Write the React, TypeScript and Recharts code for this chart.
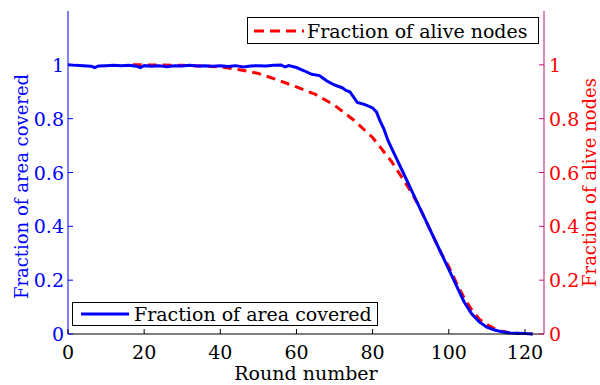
import { Label, Line, LineChart, XAxis, YAxis } from "recharts";

const xTicks = [0, 20, 40, 60, 80, 100, 120];
const yTicks = [0, 0.2, 0.4, 0.6, 0.8, 1];

const coveredRounds = [
  0, 2, 4, 6, 7, 8, 10, 12, 14, 16, 18, 19, 20, 22, 24, 26, 28, 30, 32, 34, 36, 38, 40, 42, 44, 46, 48,
  50, 52, 54, 56, 57, 58, 60, 62, 64, 66, 67, 68, 70, 72, 73, 74, 75, 76, 78, 80, 81, 82, 83, 84, 85, 86,
  88, 90, 92, 94, 96, 98, 100, 102, 104, 106, 108, 110, 112, 114, 116, 118, 120, 122
];
const coveredValues = [
  1.0, 0.998, 0.997, 0.995, 0.99, 0.996, 0.997, 0.998, 0.997, 0.998, 0.995, 0.99, 0.997, 0.995, 0.997,
  0.993, 0.997, 0.996, 0.998, 0.996, 0.997, 0.995, 0.997, 0.994, 0.997, 0.992, 0.996, 0.997, 0.996, 0.998,
  0.999, 0.992, 0.997, 0.99, 0.978, 0.965, 0.96, 0.95, 0.94, 0.925, 0.915, 0.905, 0.9, 0.88, 0.86, 0.852,
  0.84, 0.825, 0.79, 0.76, 0.72, 0.69, 0.66, 0.6, 0.54, 0.48, 0.42, 0.36, 0.3, 0.24, 0.18, 0.12, 0.075,
  0.045, 0.025, 0.015, 0.008, 0.004, 0.003, 0.002, 0
];

// red series only shows from round ~17 in the reference
const aliveRounds = [
  17, 20, 25, 30, 35, 40, 45, 50, 55, 60, 65, 70, 75, 80, 85, 88, 90, 92, 95, 98, 100, 102, 104, 106, 108,
  110, 112, 114, 116, 118, 120, 122
];
const aliveValues = [
  1.0, 1.0, 0.999, 0.998, 0.996, 0.992, 0.982, 0.968, 0.944, 0.918, 0.89, 0.85, 0.795, 0.73, 0.64, 0.575,
  0.53, 0.48, 0.39, 0.3, 0.25, 0.19, 0.135, 0.09, 0.055, 0.035, 0.02, 0.01, 0.005, 0.003, 0.002, 0
];

const coveredData = coveredRounds.map((round, i) => ({ round, value: coveredValues[i] }));
const aliveData = aliveRounds.map((round, i) => ({ round, value: aliveValues[i] }));

const BLUE = "#0000ff";
const RED = "#ff0000";
const RIGHT_AXIS = "#c4107a";
const FONT = "DejaVu Serif, Liberation Serif, serif";
const textStyle = { fontFamily: FONT, fontSize: 19 };
const sideLabelStyle = { fontFamily: FONT, fontSize: 18 };

function BottomTick({ x, y, payload }: any) {
  return (
    <g>
      <line x1={x} x2={x} y1={y} y2={y - 5} stroke="#000" />
      <text x={x} y={y + 25} textAnchor="middle" style={textStyle} fill="#000">
        {payload.value}
      </text>
    </g>
  );
}

function TopTick({ x, y }: any) {
  return <line x1={x} x2={x} y1={y} y2={y + 5} stroke="#000" />;
}

function LeftTick({ x, y, payload }: any) {
  return (
    <g>
      <line x1={x} x2={x + 5} y1={y} y2={y} stroke={BLUE} />
      <text x={x - 4} y={y + 7} textAnchor="end" style={textStyle} fill={BLUE}>
        {payload.value}
      </text>
    </g>
  );
}

function RightTick({ x, y, payload }: any) {
  return (
    <g>
      <line x1={x} x2={x - 5} y1={y} y2={y} stroke={RIGHT_AXIS} />
      <text x={x + 5} y={y + 7} textAnchor="start" style={textStyle} fill={RED}>
        {payload.value}
      </text>
    </g>
  );
}

const legendBox: React.CSSProperties = {
  position: "absolute",
  background: "#fff",
  border: "1px solid #000",
  display: "flex",
  alignItems: "center",
  fontFamily: FONT,
  fontSize: 19,
  color: "#000",
  boxSizing: "border-box",
  whiteSpace: "nowrap"
};

export default function App() {
  return (
    <div style={{ position: "absolute", left: 0, top: 0, width: 600, height: 385, background: "#fff", fontFamily: FONT }}>
      <LineChart width={600} height={385} margin={{ top: 11, right: 0, bottom: 0, left: 0 }}>
        <XAxis
          dataKey="round"
          type="number"
          domain={[0, 125]}
          ticks={xTicks}
          allowDataOverflow
          height={51}
          stroke="#000"
          tickLine={false}
          tickSize={0}
          tickMargin={0}
          tick={<BottomTick />}
        >
          <Label value="Round number" position="center" dy={14} style={textStyle} fill="#000" />
        </XAxis>
        <XAxis
          xAxisId="top"
          orientation="top"
          dataKey="round"
          type="number"
          domain={[0, 125]}
          ticks={xTicks}
          height={0}
          stroke="#000"
          tickLine={false}
          tickSize={0}
          tickMargin={0}
          tick={<TopTick />}
        />
        <YAxis
          yAxisId="left"
          domain={[0, 1.2]}
          ticks={yTicks}
          width={68}
          stroke={BLUE}
          tickLine={false}
          tickSize={0}
          tickMargin={0}
          tick={<LeftTick />}
        >
          <Label
            value="Fraction of area covered"
            angle={-90}
            position="center"
            dx={-12}
            dy={14}
            style={sideLabelStyle}
            fill={BLUE}
          />
        </YAxis>
        <YAxis
          yAxisId="right"
          orientation="right"
          domain={[0, 1.2]}
          ticks={yTicks}
          width={56}
          stroke={RIGHT_AXIS}
          tickLine={false}
          tickSize={0}
          tickMargin={0}
          tick={<RightTick />}
        >
          <Label
            value="Fraction of alive nodes"
            angle={-90}
            position="center"
            dx={18}
            dy={10}
            style={sideLabelStyle}
            fill={RED}
          />
        </YAxis>
        <Line
          yAxisId="right"
          data={aliveData}
          dataKey="value"
          stroke={RED}
          strokeWidth={3}
          strokeDasharray="9 6"
          dot={false}
          isAnimationActive={false}
        />
        <Line
          yAxisId="left"
          data={coveredData}
          dataKey="value"
          stroke={BLUE}
          strokeWidth={3}
          dot={false}
          isAnimationActive={false}
        />
      </LineChart>

      <div style={{ ...legendBox, left: 247, top: 17, width: 292, height: 27 }}>
        <svg width={54} height={10} style={{ marginLeft: 4 }}>
          <line x1={2} x2={52} y1={5} y2={5} stroke={RED} strokeWidth={3} strokeDasharray="10 6" />
        </svg>
        <span style={{ marginLeft: 1 }}>Fraction of alive nodes</span>
      </div>
      <div style={{ ...legendBox, left: 72, top: 302, width: 306, height: 24 }}>
        <svg width={54} height={10} style={{ marginLeft: 6 }}>
          <line x1={2} x2={50} y1={5} y2={5} stroke={BLUE} strokeWidth={3} />
        </svg>
        <span style={{ marginLeft: 1 }}>Fraction of area covered</span>
      </div>
    </div>
  );
}
